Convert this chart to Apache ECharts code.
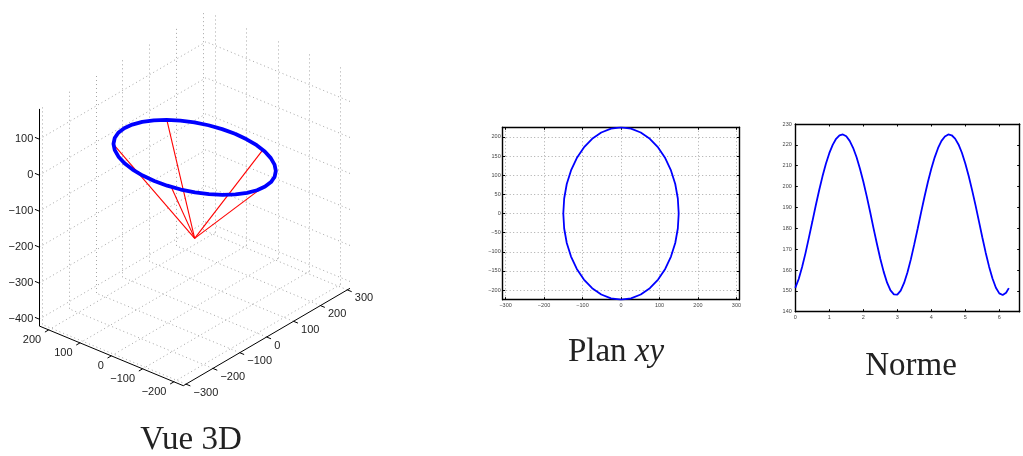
<!DOCTYPE html>
<html>
<head>
<meta charset="utf-8">
<script src="https://cdn.jsdelivr.net/npm/echarts@6/dist/echarts.min.js"></script>
<style>
html, body { margin: 0; padding: 0; background: #fff; }
#main { width: 1023px; height: 456px; }
</style>
</head>
<body>
<div id="main"></div>
<script>
// Ellipse traced in the horizontal plane (10 degree steps, closed)
const ellipseX = [150, 147.7, 141.0, 129.9, 114.9, 96.4, 75.0, 51.3, 26.0, 0,
  -26.0, -51.3, -75.0, -96.4, -114.9, -129.9, -141.0, -147.7, -150,
  -147.7, -141.0, -129.9, -114.9, -96.4, -75.0, -51.3, -26.0, 0,
  26.0, 51.3, 75.0, 96.4, 114.9, 129.9, 141.0, 147.7, 150];
const ellipseY = [0, 39.1, 77.0, 112.5, 144.6, 172.4, 194.9, 211.4, 221.6, 225,
  221.6, 211.4, 194.9, 172.4, 144.6, 112.5, 77.0, 39.1, 0,
  -39.1, -77.0, -112.5, -144.6, -172.4, -194.9, -211.4, -221.6, -225,
  -221.6, -211.4, -194.9, -172.4, -144.6, -112.5, -77.0, -39.1, 0];
const ringHeight = -3;

// Apex of the cone and the five points it is joined to
const apex = [0, 0, -228];
const spokeX = [96.7, -77.1, -146.2, -15.3, 133.4];
const spokeY = [171.9, 193.0, -50.8, -223.8, -103.2];

// Norm against the parameter t
const normT = [0, 0.1, 0.2, 0.3, 0.4, 0.5, 0.6, 0.7, 0.8, 0.9,
  1.0, 1.1, 1.2, 1.3, 1.4, 1.5, 1.6, 1.7, 1.8, 1.9,
  2.0, 2.1, 2.2, 2.3, 2.4, 2.5, 2.6, 2.7, 2.8, 2.9,
  3.0, 3.1, 3.2, 3.3, 3.4, 3.5, 3.6, 3.7, 3.8, 3.9,
  4.0, 4.1, 4.2, 4.3, 4.4, 4.5, 4.6, 4.7, 4.8, 4.9,
  5.0, 5.1, 5.2, 5.3, 5.4, 5.5, 5.6, 5.7, 5.8, 5.9,
  6.0, 6.1, 6.2, 6.28];
const normV = [151.4, 155.7, 161.4, 168.1, 175.5, 183.1, 190.8, 198.1, 204.9, 210.9,
  216.0, 220.0, 222.9, 224.6, 225.0, 224.1, 221.9, 218.6, 214.2, 208.7,
  202.4, 195.4, 187.9, 180.1, 172.6, 165.4, 159.1, 153.9, 150.2, 148.3,
  148.2, 150.1, 153.8, 158.9, 165.2, 172.4, 179.9, 187.6, 195.1, 202.2,
  208.5, 214.0, 218.5, 221.9, 224.0, 225.0, 224.6, 223.0, 220.2, 216.2,
  211.1, 205.1, 198.3, 191.1, 183.4, 175.7, 168.3, 161.6, 155.9, 151.5,
  148.8, 148.0, 149.1, 151.3];

// 3D box limits and tick values
const box3d = { x: [-310, 310], y: [-230, 230], z: [-419, 184] };
const ticks3dX = [-300, -200, -100, 0, 100, 200, 300];
const ticks3dY = [-200, -100, 0, 100, 200];
const ticks3dZ = [-400, -300, -200, -100, 0, 100];

// 2D panels: tick values
const planTicksX = [-300, -200, -100, 0, 100, 200, 300];
const planTicksY = [-200, -150, -100, -50, 0, 50, 100, 150, 200];
const normTicksX = [0, 1, 2, 3, 4, 5, 6];

// Orthographic view of the 3D box, expressed in page pixels
const view = {
  origin: [183.3, 385.7],          // corner (xmin, ymin, zmin)
  ex: [0.26887, -0.15710],
  ey: [-0.31304, -0.12978],
  ez: [0, -0.36]
};
function project(p) {
  const dx = p[0] - box3d.x[0], dy = p[1] - box3d.y[0], dz = p[2] - box3d.z[0];
  return [
    view.origin[0] + dx * view.ex[0] + dy * view.ey[0] + dz * view.ez[0],
    view.origin[1] + dx * view.ex[1] + dy * view.ey[1] + dz * view.ez[1]
  ];
}
const seg = (a, b) => ({ coords: [project(a), project(b)] });
const minus = v => String(v).replace('-', '\u2212');

const [x0, x1] = box3d.x, [y0, y1] = box3d.y, [z0, z1] = box3d.z;

// dotted grid on the floor and the two back walls
const gridSegs = [];
ticks3dX.forEach(x => {
  gridSegs.push(seg([x, y0, z0], [x, y1, z0]));
  gridSegs.push(seg([x, y1, z0], [x, y1, z1]));
});
ticks3dY.forEach(y => {
  gridSegs.push(seg([x0, y, z0], [x1, y, z0]));
  gridSegs.push(seg([x1, y, z0], [x1, y, z1]));
});
ticks3dZ.forEach(z => {
  gridSegs.push(seg([x0, y1, z], [x1, y1, z]));
  gridSegs.push(seg([x1, y0, z], [x1, y1, z]));
});

// axis lines and ticks
const tickLen = 14;
const axisSegs = [
  seg([x0, y0, z0], [x1, y0, z0]),
  seg([x0, y0, z0], [x0, y1, z0]),
  seg([x0, y1, z0], [x0, y1, z1])
];
const labels3d = [];
ticks3dX.forEach(x => {
  axisSegs.push(seg([x, y0, z0], [x, y0 - tickLen, z0]));
  labels3d.push({ pos: project([x, y0, z0]), dx: 7.5, dy: 8.5, text: minus(x), align: 'left' });
});
ticks3dY.forEach(y => {
  axisSegs.push(seg([x0, y, z0], [x0 - tickLen, y, z0]));
  labels3d.push({ pos: project([x0, y, z0]), dx: -7.5, dy: 10.5, text: minus(y), align: 'right' });
});
ticks3dZ.forEach(z => {
  axisSegs.push(seg([x0, y1, z], [x0, y1 + tickLen, z]));
  labels3d.push({ pos: project([x0, y1, z]), dx: -6, dy: 0, text: minus(z), align: 'right' });
});

const ring3d = ellipseX.map((x, i) => project([x, ellipseY[i], ringHeight]));
const spokes = spokeX.map((x, i) => seg(apex, [x, spokeY[i], ringHeight]));

const tickFont = 'Liberation Sans';
const titleFont = 'Liberation Serif';
const titleSize = 33;

function frameAxis(extra) {
  return Object.assign({
    type: 'value',
    axisLine: { onZero: false, lineStyle: { color: '#000', width: 1.4 } },
    axisTick: { inside: true, length: 2.5, lineStyle: { color: '#000', width: 1 } },
    axisLabel: { show: false },
    splitLine: { show: false }
  }, extra);
}
const smallLabel = (margin) => ({ show: true, fontSize: 5.5, color: '#444', fontFamily: tickFont, margin, formatter: minus });

const chart = echarts.init(document.getElementById('main'), null, { renderer: 'canvas' });
chart.setOption({
  animation: false,
  backgroundColor: '#fff',
  grid: [
    { left: 0, top: 0, width: 1023, height: 456, outerBoundsMode: 'none', containLabel: false },
    { left: 502.7, top: 127.3, width: 236.6, height: 172.4, outerBoundsMode: 'none', containLabel: false },
    { left: 795.3, top: 124, width: 224.4, height: 187.7, outerBoundsMode: 'none', containLabel: false }
  ],
  xAxis: [
    { gridIndex: 0, type: 'value', min: 0, max: 1023, show: false },
    frameAxis({ gridIndex: 1, position: 'bottom', min: -307.5, max: 307.5,
      axisTick: { inside: true, length: 2.5, customValues: planTicksX, lineStyle: { color: '#000' } },
      axisLabel: Object.assign(smallLabel(3), { customValues: planTicksX }),
      splitLine: { show: true, lineStyle: { color: '#a8a8a8', width: 1, type: [1, 2.5] } } }),
    frameAxis({ gridIndex: 1, position: 'top', min: -307.5, max: 307.5,
      axisTick: { inside: true, length: 2.5, customValues: planTicksX, lineStyle: { color: '#000' } } }),
    frameAxis({ gridIndex: 2, position: 'bottom', min: 0, max: 6.6,
      axisTick: { inside: true, length: 2.5, customValues: normTicksX, lineStyle: { color: '#000' } },
      axisLabel: Object.assign(smallLabel(2.5), { customValues: normTicksX }) }),
    frameAxis({ gridIndex: 2, position: 'top', min: 0, max: 6.6,
      axisTick: { inside: true, length: 2.5, customValues: normTicksX, lineStyle: { color: '#000' } } })
  ],
  yAxis: [
    { gridIndex: 0, type: 'value', min: 0, max: 456, inverse: true, show: false },
    frameAxis({ gridIndex: 1, position: 'left', min: -225, max: 225,
      axisTick: { inside: true, length: 2.5, customValues: planTicksY, lineStyle: { color: '#000' } },
      axisLabel: Object.assign(smallLabel(2), { customValues: planTicksY }),
      splitLine: { show: true, lineStyle: { color: '#a8a8a8', width: 1, type: [1, 2.5] } } }),
    frameAxis({ gridIndex: 1, position: 'right', min: -225, max: 225,
      axisTick: { inside: true, length: 2.5, customValues: planTicksY, lineStyle: { color: '#000' } } }),
    frameAxis({ gridIndex: 2, position: 'left', min: 140, max: 230, interval: 10,
      axisLabel: smallLabel(3.5) }),
    frameAxis({ gridIndex: 2, position: 'right', min: 140, max: 230, interval: 10 })
  ],
  series: [
    {
      name: 'grid3d', type: 'lines', coordinateSystem: 'cartesian2d', xAxisIndex: 0, yAxisIndex: 0,
      data: gridSegs, silent: true, z: 1,
      lineStyle: { color: '#a6a6a6', width: 1, type: [1, 3], opacity: 1 }
    },
    {
      name: 'axes3d', type: 'lines', coordinateSystem: 'cartesian2d', xAxisIndex: 0, yAxisIndex: 0,
      data: axisSegs, silent: true, z: 2,
      lineStyle: { color: '#000', width: 1, opacity: 1 }
    },
    {
      name: 'labels3d', type: 'custom', coordinateSystem: 'cartesian2d', xAxisIndex: 0, yAxisIndex: 0,
      data: labels3d.map(l => l.pos), silent: true, z: 2,
      renderItem: (params, api) => {
        const l = labels3d[params.dataIndex];
        const p = api.coord([api.value(0), api.value(1)]);
        return {
          type: 'text', x: p[0] + l.dx, y: p[1] + l.dy,
          style: { text: l.text, fill: '#222', fontSize: 11, fontFamily: tickFont, align: l.align, verticalAlign: 'middle' }
        };
      }
    },
    {
      name: 'spokes', type: 'lines', coordinateSystem: 'cartesian2d', xAxisIndex: 0, yAxisIndex: 0,
      data: spokes, silent: true, z: 3,
      lineStyle: { color: '#ff0000', width: 1.1, opacity: 1 }
    },
    {
      name: 'ring3d', type: 'line', xAxisIndex: 0, yAxisIndex: 0, data: ring3d,
      showSymbol: false, silent: true, z: 4, clip: false,
      lineStyle: { color: '#0000ff', width: 3.8 }
    },
    {
      name: 'Plan xy', type: 'line', xAxisIndex: 1, yAxisIndex: 1,
      data: ellipseX.map((x, i) => [x, ellipseY[i]]),
      showSymbol: false, silent: true, z: 4,
      lineStyle: { color: '#0000ff', width: 1.8 }
    },
    {
      name: 'Norme', type: 'line', xAxisIndex: 3, yAxisIndex: 3,
      data: normT.map((t, i) => [t, normV[i]]),
      showSymbol: false, silent: true, z: 4,
      lineStyle: { color: '#0000ff', width: 1.8 }
    }
  ],
  graphic: [
    { type: 'text', x: 191, y: 440, silent: true,
      style: { text: 'Vue 3D', fill: '#222', fontSize: titleSize, fontFamily: titleFont, align: 'center', verticalAlign: 'middle' } },
    { type: 'text', x: 616, y: 352, silent: true,
      style: { text: 'Plan {i|xy}', fill: '#222', fontSize: titleSize, fontFamily: titleFont, align: 'center', verticalAlign: 'middle',
        rich: { i: { fontStyle: 'italic', fontSize: titleSize, fontFamily: titleFont, fill: '#222' } } } },
    { type: 'text', x: 911, y: 366, silent: true,
      style: { text: 'Norme', fill: '#222', fontSize: titleSize, fontFamily: titleFont, align: 'center', verticalAlign: 'middle' } }
  ]
});
</script>
</body>
</html>
